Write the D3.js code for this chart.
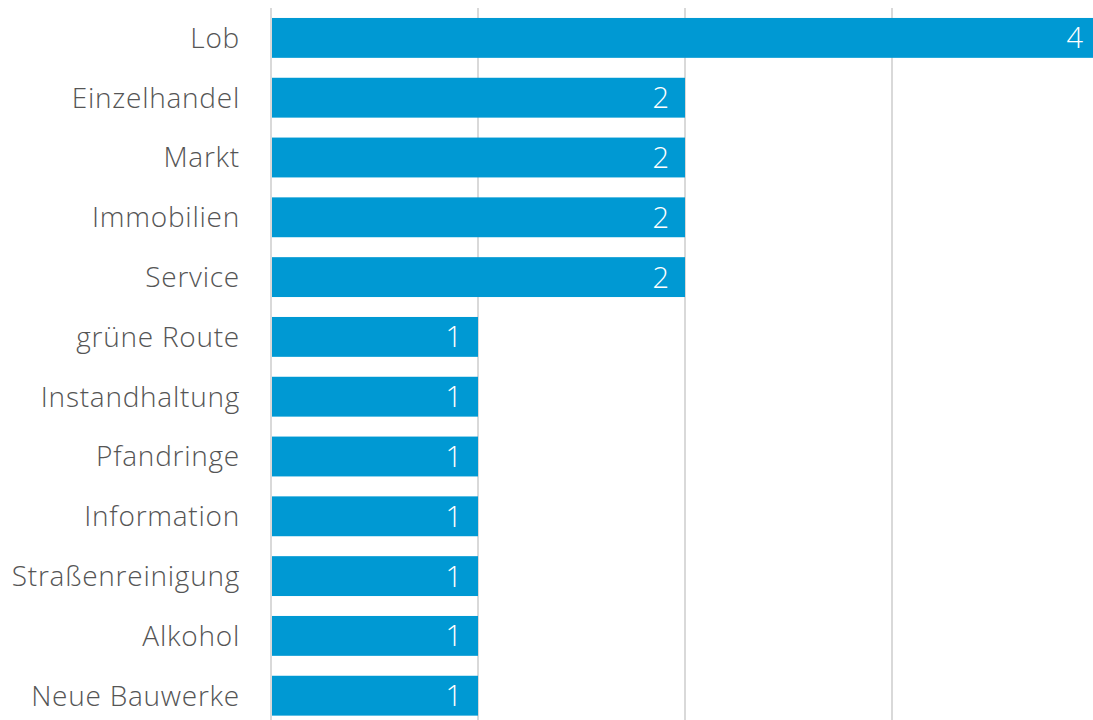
<!DOCTYPE html>
<html>
<head>
<meta charset="utf-8">
<script src="https://cdn.jsdelivr.net/npm/d3@7"></script>
<style>
  html, body { margin: 0; padding: 0; background: #fff; overflow: hidden; }
</style>
</head>
<body>
<div id="chart"></div>
<script>
const categories = ["Lob", "Einzelhandel", "Markt", "Immobilien", "Service", "grüne Route",
    "Instandhaltung", "Pfandringe", "Information", "Straßenreinigung", "Alkohol", "Neue Bauwerke"];
const counts = [4, 2, 2, 2, 2, 1, 1, 1, 1, 1, 1, 1];
const gridTicks = [0, 1, 2, 3];

const W = 1093, H = 720;
const FONT = "'Open Sans', sans-serif";

const svg = d3.select("#chart").append("svg")
    .attr("width", W)
    .attr("height", H);

const x = d3.scaleLinear().domain([0, 4]).range([271, 1099]);
const y = d3.scaleBand().domain(categories).range([8, 8 + 12 * 59.8]).paddingInner(1 / 3).paddingOuter(1 / 6);

// grid lines
svg.append("g")
    .selectAll("line")
    .data(gridTicks)
    .join("line")
    .attr("x1", d => x(d))
    .attr("x2", d => x(d))
    .attr("y1", 8)
    .attr("y2", H)
    .attr("stroke", "#d9d9d9")
    .attr("stroke-width", 2);

const rows = categories.map((c, i) => ({ name: c, value: counts[i] }));

svg.append("g")
    .selectAll("rect")
    .data(rows)
    .join("rect")
    .attr("x", x(0) + 1)
    .attr("y", d => y(d.name))
    .attr("width", d => x(d.value) - x(0) - 1)
    .attr("height", y.bandwidth())
    .attr("fill", "#0099d3");

// category labels
svg.append("g")
    .selectAll("text")
    .data(rows)
    .join("text")
    .attr("x", 240)
    .attr("y", d => y(d.name) + y.bandwidth() / 2)
    .attr("dy", "0.35em")
    .attr("text-anchor", "end")
    .attr("fill", "#555")
    .style("font-family", FONT)
    .style("font-weight", 300)
    .style("font-size", "28px")
    .style("letter-spacing", "0.75px")
    .text(d => d.name);

// value labels
svg.append("g")
    .selectAll("text")
    .data(rows)
    .join("text")
    .attr("x", d => x(d.value) - 16)
    .attr("y", d => y(d.name) + y.bandwidth() / 2)
    .attr("dy", "0.36em")
    .attr("text-anchor", "end")
    .attr("fill", "#fff")
    .style("font-family", FONT)
    .style("font-weight", 300)
    .style("font-size", "29px")
    .text(d => d.value);
</script>
</body>
</html>
